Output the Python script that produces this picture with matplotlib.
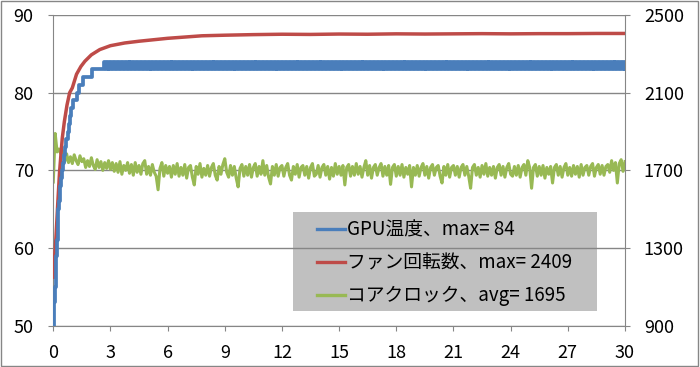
import numpy as np
import matplotlib.pyplot as plt
from matplotlib.lines import Line2D
from matplotlib.patches import Rectangle

plt.rcParams['font.family'] = ['Noto Sans CJK JP', 'DejaVu Sans']

# GPU temperature: rise one step at a time, then flicker 83/84 from t=2.65
temp_rise_t = [0, 0.03, 0.06, 0.09, 0.12, 0.15, 0.19, 0.23, 0.26, 0.30, 0.35, 0.40, 0.44,
               0.50, 0.55, 0.60, 0.66, 0.76, 0.82, 0.88, 0.94, 1.01, 1.22, 1.36, 1.57, 2.01]
temp_rise_v = [50, 52, 53, 55, 57, 59, 61, 63, 65, 66, 68, 69, 70,
               71, 72, 73, 74, 75, 76, 77, 78, 79, 80, 81, 82, 83]
flicker_start = 2.65
temp_flicker = [
    84, 83, 84, 83, 84, 83, 84, 83, 84, 83, 84, 83, 84, 83, 84, 83, 84, 83, 84, 83,
    84, 83, 84, 83, 84, 83, 84, 83, 84, 83, 84, 83, 84, 83, 84, 83, 84, 83, 84, 83,
    84, 83, 84, 83, 84, 83, 84, 83, 84, 83, 84, 83, 84, 83, 84, 83, 84, 83, 84, 83,
    84, 83, 84, 83, 84, 83, 84, 83, 84, 83, 84, 83, 84, 83, 84, 83, 84, 83, 84, 83,
    84, 83, 84, 83, 84, 83, 84, 83, 84, 83, 84, 83, 84, 83, 84, 83, 84, 83, 84, 83,
    84, 83, 84, 83, 84, 83, 84, 83, 84, 83, 84, 83, 84, 83, 84, 83, 84, 83, 84, 83,
    84, 83, 84, 83, 84, 83, 84, 83, 84, 83, 84, 83, 84, 83, 84, 83, 84, 83, 84, 83,
    84, 83, 84, 83, 84, 83, 84, 83, 84, 83, 84, 83, 84, 83, 84, 83, 84, 83, 84, 83,
    84, 83, 84, 83, 84, 83, 84, 83, 84, 83, 84, 83, 84, 83, 84, 83, 84, 83, 84, 83,
    84, 83, 84, 83, 84, 83, 84, 83, 84, 83, 84, 83, 84, 83, 84, 83, 84, 83, 84, 83,
    84, 83, 84, 83, 84, 83, 84, 83, 84, 83, 84, 83, 84, 83, 84, 83, 84, 83, 84, 83,
    84, 83, 84, 83, 84, 83, 84, 83, 84, 83, 84, 83, 84, 83, 84, 83, 84, 83, 84, 83,
    84, 83, 84, 83, 84, 83, 84, 83, 84, 83, 84, 83, 84, 83, 84, 83, 84, 83, 84, 83,
    84, 83, 84, 83, 84, 83, 84, 83, 84, 83, 84, 83, 84, 83,
]

# fan speed (rpm)
fan_t = [0, 0.07, 0.14, 0.23, 0.33, 0.47, 0.58, 0.72, 0.86, 1.0, 1.22, 1.45, 1.66, 2.0,
         2.44, 3.0, 3.75, 4.5, 6.0, 7.8, 9.0, 10.5, 12, 13.5, 15, 16.5, 18, 19.5, 21,
         22.5, 24, 25.5, 27, 28.5, 30]
fan_rpm = [1150, 1250, 1352, 1520, 1692, 1864, 1950, 2036, 2100, 2125, 2195, 2235, 2262, 2295,
           2322, 2342, 2356, 2365, 2380, 2393, 2396, 2399, 2401, 2400, 2402, 2401, 2403, 2402,
           2403, 2404, 2403, 2404, 2404, 2405, 2405]

# core clock (MHz), one sample every 0.1
core_clock = [
    1640, 1890, 1795, 1810, 1785,
    1800, 1745, 1785, 1740, 1770, 1735, 1780, 1750, 1730, 1775, 1745,
    1760, 1715, 1750, 1720, 1765, 1725, 1705, 1755, 1715, 1745, 1700, 1740, 1710, 1750, 1705,
    1740, 1695, 1735, 1690, 1745, 1680, 1725, 1700, 1740, 1685,
    1730, 1675, 1740, 1690, 1725, 1680, 1735, 1750, 1680, 1720,
    1675, 1730, 1690, 1670, 1600, 1710, 1740, 1670, 1725, 1685,
    1720, 1665, 1725, 1680, 1735, 1670, 1715, 1675, 1730, 1660,
    1715, 1725, 1665, 1625, 1720, 1680, 1735, 1665, 1710, 1675,
    1725, 1670, 1715, 1735, 1675, 1650, 1720, 1680, 1730, 1760,
    1690, 1665, 1725, 1675, 1720, 1660, 1615, 1710, 1730, 1670,
    1720, 1675, 1730, 1665, 1715, 1735, 1670, 1720, 1680, 1750,
    1675, 1725, 1665, 1630, 1720, 1675, 1730, 1670, 1715, 1725,
    1670, 1715, 1735, 1675, 1650, 1720, 1680, 1730, 1665, 1715,
    1725, 1675, 1720, 1660, 1715, 1735, 1670, 1680, 1725, 1665,
    1715, 1730, 1675, 1720, 1655, 1715, 1670, 1735, 1680, 1720,
    1675, 1725, 1625, 1715, 1730, 1670, 1720, 1675, 1735, 1680,
    1720, 1665, 1715, 1750, 1675, 1725, 1660, 1715, 1730, 1675,
    1715, 1735, 1670, 1720, 1675, 1725, 1628, 1715, 1730, 1670,
    1720, 1675, 1730, 1665, 1715, 1680, 1725, 1615, 1715, 1675,
    1725, 1670, 1715, 1735, 1675, 1720, 1660, 1715, 1730, 1675,
    1715, 1725, 1670, 1635, 1720, 1675, 1730, 1665, 1715, 1725,
    1675, 1720, 1665, 1715, 1730, 1675, 1720, 1670, 1608, 1715,
    1730, 1675, 1715, 1665, 1725, 1680, 1735, 1670, 1715, 1675,
    1720, 1660, 1715, 1730, 1675, 1720, 1665, 1715, 1735, 1680,
    1670, 1720, 1675, 1725, 1665, 1715, 1730, 1675, 1750, 1715,
    1608, 1715, 1730, 1670, 1720, 1675, 1725, 1660, 1715, 1680,
    1720, 1635, 1715, 1730, 1675, 1720, 1665, 1715, 1735, 1675,
    1715, 1670, 1725, 1680, 1720, 1665, 1730, 1675, 1715, 1725,
    1675, 1720, 1735, 1670, 1715, 1730, 1680, 1725, 1675, 1720,
    1730, 1690, 1750, 1700, 1740, 1635, 1735, 1755, 1695, 1745,
]

labels = ['GPU温度、max= 84', 'ファン回転数、max= 2409', 'コアクロック、avg= 1695']
x_ticks = list(range(0, 31, 3))
temp_ticks = [50, 60, 70, 80, 90]
rpm_ticks = [900, 1300, 1700, 2100, 2500]

c_blue, c_red, c_green = '#4a7ebb', '#be4b48', '#98b954'
grey = '#868686'

fig = plt.figure(figsize=(7, 3.67), dpi=100)
ax = fig.add_axes([0.0761, 0.1125, 0.8167, 0.8466])
ax2 = ax.twinx()
ax.set_zorder(2)
ax2.set_zorder(1)
ax.patch.set_visible(False)

temp_t = temp_rise_t + list(np.linspace(flicker_start, 30, len(temp_flicker)))
temp_v = temp_rise_v + temp_flicker
clock_t = np.linspace(0, 30, len(core_clock))

ax2.plot(clock_t, core_clock, color=c_green, lw=2.2, zorder=2)
ax2.plot(fan_t, fan_rpm, color=c_red, lw=2.5, zorder=3)
ax.plot(temp_t, temp_v, color=c_blue, lw=2.7, drawstyle='steps-post')

ax.set_xlim(0, 30)
ax.set_ylim(50, 90)
ax2.set_ylim(900, 2500)
ax.set_xticks(x_ticks)
ax.set_yticks(temp_ticks)
ax2.set_yticks(rpm_ticks)

ax2.set_axisbelow(True)
ax2.yaxis.grid(True, color=grey, lw=1)
for s in ax.spines.values():
    s.set_visible(False)
ax2.spines['top'].set_visible(False)
for k in ['left', 'right', 'bottom']:
    ax2.spines[k].set_color(grey)

ax.tick_params(axis='y', length=3.6, color=grey, pad=10.5, labelsize=13)
ax.tick_params(axis='x', length=3.6, color=grey, pad=9.5, labelsize=13)
ax2.tick_params(axis='y', length=3.6, color=grey, pad=10, labelsize=13)

# legend box (grid shows through it)
ax2.add_patch(Rectangle((0.419, 0.047), 0.532, 0.319, transform=ax2.transAxes,
                        facecolor='#c0c0c0', edgecolor='none', zorder=0.3))
handles = [Line2D([], [], color=c, lw=2.4) for c in (c_blue, c_red, c_green)]
ax.legend(handles, labels, loc='center left', bbox_to_anchor=(0.461, 0.202),
          frameon=False, borderpad=0, borderaxespad=0, handlelength=1.5,
          handletextpad=0.11, labelspacing=0.62, fontsize=13.5)

fig.patches.append(Rectangle((0.002, 0.004), 0.995, 0.992, transform=fig.transFigure,
                             fill=False, edgecolor=grey, lw=1))

fig.savefig('out.png', dpi=100)
